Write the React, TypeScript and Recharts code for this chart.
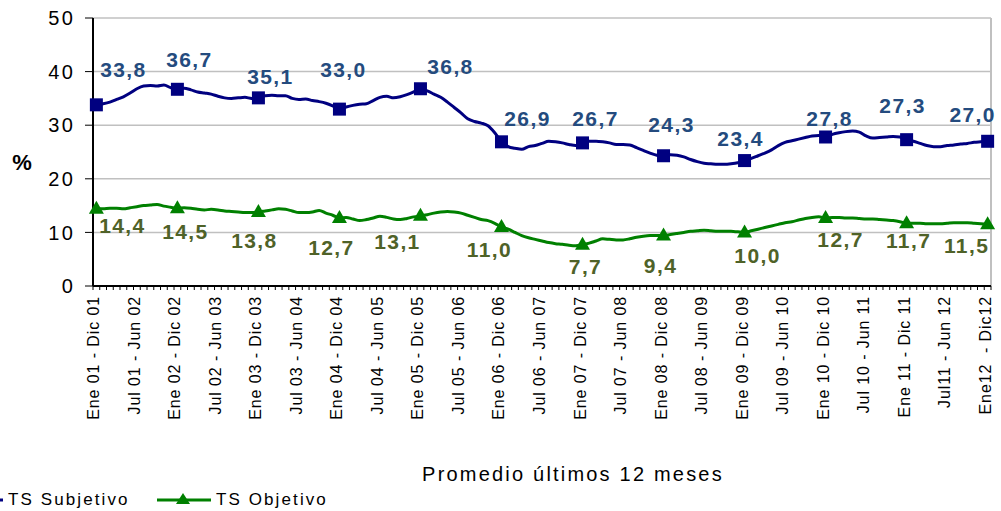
import { LineChart, Line, XAxis, YAxis, CartesianGrid, Legend, ReferenceLine } from 'recharts';

// 12-month moving averages, one value per month (Ene01-Dic01 ... Ene12-Dic12)
const SUBJETIVO = [
  33.8, 34.0, 34.3, 34.8, 35.3, 36.0, 36.8, 37.3, 37.4, 37.3, 37.5, 37.0, 36.7,
  36.9, 36.6, 36.2, 36.0, 35.8, 35.4, 35.1, 35.0, 35.1, 35.2, 35.0, 35.1,
  35.5, 35.6, 35.5, 35.5, 35.0, 34.8, 34.9, 34.6, 34.4, 34.1, 33.6, 33.0,
  33.4, 33.7, 33.9, 34.0, 34.6, 35.2, 35.4, 35.1, 35.3, 35.7, 36.2, 36.8,
  36.4, 35.8, 35.2, 34.3, 33.3, 32.3, 31.2, 30.7, 30.4, 29.9, 28.6, 26.9,
  26.0, 25.7, 25.5, 26.0, 26.2, 26.6, 27.0, 26.9, 26.7, 26.4, 26.2, 26.7,
  27.0, 27.0, 26.9, 26.7, 26.4, 26.4, 26.3, 25.8, 25.3, 24.8, 24.4, 24.3,
  24.5, 24.4, 24.1, 23.6, 23.2, 22.9, 22.8, 22.7, 22.7, 22.8, 23.0, 23.4,
  23.8, 24.3, 24.8, 25.4, 26.2, 26.8, 27.1, 27.4, 27.7, 28.0, 28.1, 27.8,
  28.3, 28.6, 28.8, 28.9, 28.7, 28.0, 27.6, 27.7, 27.8, 27.9, 27.8, 27.3,
  27.0, 26.6, 26.2, 26.0, 26.0, 26.2, 26.3, 26.5, 26.6, 26.8, 26.9, 27.0,
];

const OBJETIVO = [
  14.4, 14.4, 14.5, 14.5, 14.4, 14.6, 14.8, 15.0, 15.1, 15.2, 14.9, 14.7, 14.5,
  14.6, 14.5, 14.3, 14.2, 14.3, 14.2, 14.0, 13.9, 13.8, 13.7, 13.7, 13.8,
  14.0, 14.2, 14.4, 14.3, 14.0, 13.7, 13.7, 13.8, 14.1, 13.6, 13.2, 12.7,
  12.8, 12.5, 12.2, 12.4, 12.7, 13.0, 12.8, 12.5, 12.4, 12.6, 12.9, 13.1,
  13.3, 13.6, 13.8, 13.9, 13.8, 13.6, 13.2, 12.8, 12.4, 12.2, 11.7, 11.0,
  10.6, 10.0, 9.4, 9.0, 8.7, 8.4, 8.1, 7.9, 7.8, 7.6, 7.5, 7.7,
  8.0, 8.4, 8.8, 8.7, 8.6, 8.6, 8.8, 9.1, 9.3, 9.4, 9.4, 9.4,
  9.6, 9.8, 10.0, 10.2, 10.3, 10.4, 10.3, 10.2, 10.2, 10.2, 10.1, 10.0,
  10.3, 10.6, 10.9, 11.2, 11.5, 11.8, 12.0, 12.3, 12.6, 12.8, 12.9, 12.7,
  12.8, 12.8, 12.7, 12.7, 12.6, 12.5, 12.5, 12.4, 12.3, 12.2, 12.0, 11.7,
  11.7, 11.7, 11.6, 11.6, 11.6, 11.7, 11.8, 11.8, 11.8, 11.7, 11.6, 11.5,
];

const TICK_LABELS = [
  'Ene 01 - Dic 01', 'Jul 01 - Jun 02', 'Ene 02 - Dic 02', 'Jul 02 - Jun 03',
  'Ene 03 - Dic 03', 'Jul 03 - Jun 04', 'Ene 04 - Dic 04', 'Jul 04 - Jun 05',
  'Ene 05 - Dic 05', 'Jul 05 - Jun 06', 'Ene 06 - Dic 06', 'Jul 06 - Jun 07',
  'Ene 07 - Dic 07', 'Jul 07 - Jun 08', 'Ene 08 - Dic 08', 'Jul 08 - Jun 09',
  'Ene 09 - Dic 09', 'Jul 09 - Jun 10', 'Ene 10 - Dic 10', 'Jul 10 - Jun 11',
  'Ene 11 - Dic 11', 'Jul11 - Jun 12', 'Ene12  - Dic12',
];

const Y_TICKS = [0, 10, 20, 30, 40, 50];

// hand placed data labels (dx, dy from the yearly marker), like the original
const SUBJ_LABEL_OFFSET = [
  [27, -28], [12, -22], [12, -14], [4, -32], [30, -15], [26, -16],
  [13, -17], [8, -24], [-4, -15], [4, -11], [-4, -27], [-15, -19],
];
const OBJ_LABEL_OFFSET = [
  [26, 24], [8, 31], [-4, 36], [-8, 37], [-23, 33], [-12, 30],
  [3, 29], [-3, 37], [13, 31], [15, 29], [2, 25], [-21, 29],
];

const FONT = '"Liberation Sans", Arial, sans-serif';
const BLUE = '#000080';
const GREEN = '#008000';
const BLUE_LABEL = '#244B7E';
const GREEN_LABEL = '#4F6228';

const data = SUBJETIVO.map((v, i) => ({ i, subj: v, obj: OBJETIVO[i] }));
const last = SUBJETIVO.length - 1;

// labels every 6 months, small tick marks between every month
const xTicks: number[] = [];
for (let t = -0.5; t <= last + 0.5; t += 0.5) xTicks.push(t);

const fmt = (v: number) => v.toFixed(1).replace('.', ',');

// eslint-disable-next-line @typescript-eslint/no-explicit-any
function MonthTick(props: any) {
  const { x, y, payload } = props;
  const v = payload.value as number;
  if (!Number.isInteger(v)) {
    return <line x1={x} x2={x} y1={y} y2={y + 4} stroke="#000" strokeWidth={1} />;
  }
  if (v % 6 !== 0) return <g />;
  const label = TICK_LABELS[v / 6];
  return (
    <text
      x={x + 3}
      y={y + 10}
      transform={`rotate(-90, ${x + 3}, ${y + 10})`}
      textAnchor="end"
      fontFamily={FONT}
      fontSize={16}
      letterSpacing={0.9}
      fill="#000"
      style={{ whiteSpace: 'pre' }}
    >
      {label}
    </text>
  );
}

function squareDot(props: any) {
  const { cx, cy, index } = props;
  if (index % 12 !== 0) return <g key={`s${index}`} />;
  return <rect key={`s${index}`} x={cx - 6.5} y={cy - 6.5} width={13} height={13} fill={BLUE} />;
}

function triangleDot(props: any) {
  const { cx, cy, index } = props;
  if (index % 12 !== 0) return <g key={`t${index}`} />;
  return (
    <polygon
      key={`t${index}`}
      points={`${cx},${cy - 8} ${cx + 7.5},${cy + 5} ${cx - 7.5},${cy + 5}`}
      fill={GREEN}
    />
  );
}

function makeLabel(offsets: number[][], color: string) {
  return (props: any) => {
    const { x, y, value, index } = props;
    if (index % 12 !== 0) return null;
    const [dx, dy] = offsets[index / 12];
    return (
      <text
        key={`l${index}`}
        x={x + dx}
        y={y + dy}
        textAnchor="middle"
        fontFamily={FONT}
        fontSize={21}
        fontWeight="bold"
        letterSpacing={1.4}
        fill={color}
      >
        {fmt(Number(value))}
      </text>
    );
  };
}

function renderLegend() {
  const txt: React.CSSProperties = {
    position: 'absolute',
    top: 0,
    fontFamily: FONT,
    fontSize: 17,
    letterSpacing: 2.1,
    lineHeight: '22px',
    color: '#000',
    whiteSpace: 'nowrap',
  };
  return (
    <div style={{ position: 'relative', height: 22, width: 1001 }}>
      <svg style={{ position: 'absolute', left: -51, top: 0 }} width={54} height={22}>
        <line x1={0} x2={54} y1={11} y2={11} stroke={BLUE} strokeWidth={3} />
        <rect x={20} y={5} width={12} height={12} fill={BLUE} />
      </svg>
      <span style={{ ...txt, left: 8 }}>TS Subjetivo</span>
      <svg style={{ position: 'absolute', left: 157, top: 0 }} width={54} height={22}>
        <line x1={0} x2={54} y1={11} y2={11} stroke={GREEN} strokeWidth={3} />
        <polygon points="26,4 33,15 19,15" fill={GREEN} />
      </svg>
      <span style={{ ...txt, left: 216 }}>TS Objetivo</span>
    </div>
  );
}

function renderTitle(props: any) {
  const { x, y, width, height } = props.viewBox;
  return (
    <text
      x={x + width / 2 + 31}
      y={y + height - 8}
      textAnchor="middle"
      fontFamily={FONT}
      fontSize={20}
      letterSpacing={2.2}
      fill="#000"
    >
      Promedio últimos 12 meses
    </text>
  );
}

function renderPct(props: any) {
  const { x, y, height } = props.viewBox;
  return (
    <text
      x={x + 22}
      y={y + height / 2 + 18}
      textAnchor="middle"
      fontFamily={FONT}
      fontSize={22}
      fontWeight="bold"
      fill="#000"
    >
      %
    </text>
  );
}

export default function App() {
  return (
    <div style={{ width: 1001, height: 511, background: '#fff' }}>
      <style>{'body { margin: 0; }'}</style>
      <LineChart
        width={1001}
        height={511}
        data={data}
        margin={{ top: 18, right: 10, left: 0, bottom: 0 }}
      >
        <CartesianGrid vertical={false} stroke="#C0C0C0" strokeWidth={1.5} />
        <XAxis
          type="number"
          dataKey="i"
          domain={[-0.5, last + 0.5]}
          ticks={xTicks}
          interval={0}
          tickLine={false}
          tickSize={0}
          tickMargin={0}
          axisLine={{ stroke: '#000', strokeWidth: 2 }}
          height={203}
          tick={<MonthTick />}
          label={{ content: renderTitle }}
        />
        <YAxis
          domain={[0, 50]}
          ticks={Y_TICKS}
          interval={0}
          width={93}
          tickSize={8}
          tickMargin={10}
          axisLine={{ stroke: '#000', strokeWidth: 2 }}
          tickLine={{ stroke: '#000' }}
          tick={{ fill: '#000', fontSize: 20, fontFamily: FONT, letterSpacing: 2.2 }}
          label={{ content: renderPct }}
        />
        <ReferenceLine x={last + 0.5} stroke="#C0C0C0" strokeWidth={2} />
        <Legend
          verticalAlign="bottom"
          align="left"
          height={22}
          content={renderLegend}
          wrapperStyle={{ left: 0, width: 1001 }}
        />
        <Line
          dataKey="subj"
          name="TS Subjetivo"
          type="monotone"
          stroke={BLUE}
          strokeWidth={3}
          dot={squareDot}
          activeDot={false}
          label={makeLabel(SUBJ_LABEL_OFFSET, BLUE_LABEL)}
          isAnimationActive={false}
        />
        <Line
          dataKey="obj"
          name="TS Objetivo"
          type="monotone"
          stroke={GREEN}
          strokeWidth={3}
          dot={triangleDot}
          activeDot={false}
          label={makeLabel(OBJ_LABEL_OFFSET, GREEN_LABEL)}
          isAnimationActive={false}
        />
      </LineChart>
    </div>
  );
}
